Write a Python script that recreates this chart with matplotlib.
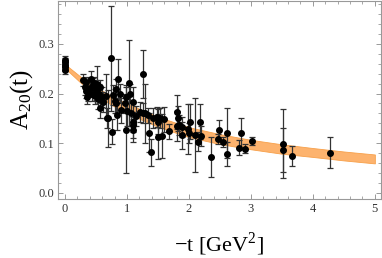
import numpy as np
import matplotlib
matplotlib.use('Agg')
import matplotlib.pyplot as plt
from matplotlib.ticker import MultipleLocator

plt.rcParams['font.family'] = ['Liberation Serif', 'DejaVu Serif']
plt.rcParams['mathtext.fontset'] = 'custom'
plt.rcParams['mathtext.rm'] = 'Liberation Serif'

# fit band
t_band = [0.0, 0.25, 0.5, 0.75, 1.0, 1.5, 2.0, 2.5, 3.0, 3.5, 4.0, 4.5, 5.0]
band_mid = [0.255, 0.228, 0.205, 0.186, 0.170, 0.143, 0.122, 0.108, 0.097, 0.088, 0.081, 0.074, 0.068]
band_half = [0.004, 0.006, 0.008, 0.009, 0.010, 0.010, 0.010, 0.010, 0.0095, 0.0095, 0.009, 0.009, 0.009]

# lattice points: -t, A20, error
t_pts = [0.0, 0.0, 0.0, 0.0, 0.0,
         0.29, 0.32, 0.34, 0.36, 0.37, 0.42, 0.45, 0.47, 0.50, 0.51,
         0.54, 0.56, 0.56, 0.59, 0.61, 0.66, 0.67, 0.69, 0.74, 0.75,
         0.77, 0.80, 0.83, 0.83, 0.84, 0.86, 0.88, 0.91, 0.96, 0.99,
         0.99, 1.00, 1.04, 1.05, 1.07, 1.09, 1.09, 1.10, 1.10, 1.15,
         1.21, 1.26, 1.26, 1.29, 1.34, 1.35, 1.38, 1.42, 1.48, 1.50,
         1.50, 1.53, 1.57, 1.60, 1.68, 1.80, 1.80, 1.82, 1.84, 1.88,
         1.89, 1.99, 2.00, 2.02, 2.10, 2.15, 2.18, 2.20, 2.35, 2.47,
         2.49, 2.55, 2.62, 2.62, 2.81, 2.84, 2.90, 3.01, 3.52, 3.52,
         3.67, 4.27,
         0.33, 0.40, 0.44, 0.48, 0.53]
a_pts = [0.248, 0.253, 0.258, 0.263, 0.268,
         0.227, 0.213, 0.223, 0.193, 0.205, 0.230, 0.217, 0.222, 0.207, 0.220,
         0.200, 0.213, 0.170, 0.193, 0.183, 0.195, 0.150, 0.150, 0.271, 0.123,
         0.197, 0.185, 0.210, 0.180, 0.156, 0.229, 0.200, 0.166, 0.180, 0.193,
         0.126, 0.165, 0.221, 0.200, 0.160, 0.183, 0.136, 0.143, 0.126, 0.155,
         0.163, 0.239, 0.160, 0.160, 0.156, 0.121, 0.081, 0.150, 0.153, 0.143,
         0.113, 0.150, 0.114, 0.148, 0.124, 0.163, 0.134, 0.150, 0.136, 0.116,
         0.133, 0.128, 0.120, 0.143, 0.116, 0.103, 0.143, 0.114, 0.072, 0.109,
         0.126, 0.103, 0.120, 0.078, 0.091, 0.120, 0.089, 0.104, 0.099, 0.086,
         0.074, 0.0805,
         0.205, 0.212, 0.200, 0.196, 0.188]
a_err = [0.008, 0.008, 0.008, 0.008, 0.008,
         0.012, 0.015, 0.010, 0.015, 0.020, 0.015, 0.015, 0.012, 0.020, 0.035,
         0.020, 0.015, 0.020, 0.020, 0.020, 0.045, 0.020, 0.057, 0.106, 0.025,
         0.020, 0.025, 0.020, 0.020, 0.030, 0.040, 0.020, 0.025, 0.020, 0.025,
         0.087, 0.030, 0.087, 0.020, 0.025, 0.030, 0.025, 0.020, 0.023, 0.020,
         0.020, 0.048, 0.020, 0.060, 0.015, 0.040, 0.027, 0.020, 0.020, 0.025,
         0.045, 0.020, 0.045, 0.025, 0.015, 0.035, 0.030, 0.025, 0.020, 0.027,
         0.020, 0.050, 0.020, 0.035, 0.075, 0.020, 0.035, 0.020, 0.041, 0.010,
         0.020, 0.010, 0.050, 0.025, 0.015, 0.030, 0.010, 0.008, 0.070, 0.045,
         0.020, 0.031,
         0.015, 0.020, 0.015, 0.018, 0.020]

band_lo = np.array(band_mid) - np.array(band_half)
band_hi = np.array(band_mid) + np.array(band_half)

fig = plt.figure(figsize=(3.82, 2.58), dpi=100)
ax = fig.add_axes([0.152, 0.229, 0.845, 0.769])

ax.fill_between(t_band, band_lo, band_hi, color='#fdb36e', edgecolor='#f7a04a',
                linewidth=0.6, zorder=1)
ax.errorbar(t_pts, a_pts, yerr=a_err, fmt='o', color='black', ms=4,
            ecolor='#333333', elinewidth=0.9, capsize=2.4, capthick=0.9, zorder=3)

ax.set_xlim(-0.113, 5.097)
ax.set_ylim(-0.0127, 0.3877)
ax.xaxis.set_major_locator(MultipleLocator(1))
ax.xaxis.set_minor_locator(MultipleLocator(0.2))
ax.yaxis.set_major_locator(MultipleLocator(0.1))
ax.yaxis.set_minor_locator(MultipleLocator(0.02))
ax.yaxis.set_major_formatter(plt.FuncFormatter(lambda v, p: f'{v:.1f}'))

for s in ax.spines.values():
    s.set_color('#999999')
    s.set_linewidth(0.8)
ax.tick_params(which='both', direction='in', top=True, right=True, color='#999999',
               labelsize=9, labelcolor='#333333')
ax.tick_params(which='major', length=3.5, width=0.7, pad=3)
ax.tick_params(which='minor', length=2, width=0.6)

ax.set_xlabel('\u2212t [GeV$^2$]', fontsize=16, labelpad=11)
ax.set_ylabel(r'$\mathregular{A_{20}(t)}$', fontsize=18, labelpad=2)

fig.savefig('out.png', dpi=100)
